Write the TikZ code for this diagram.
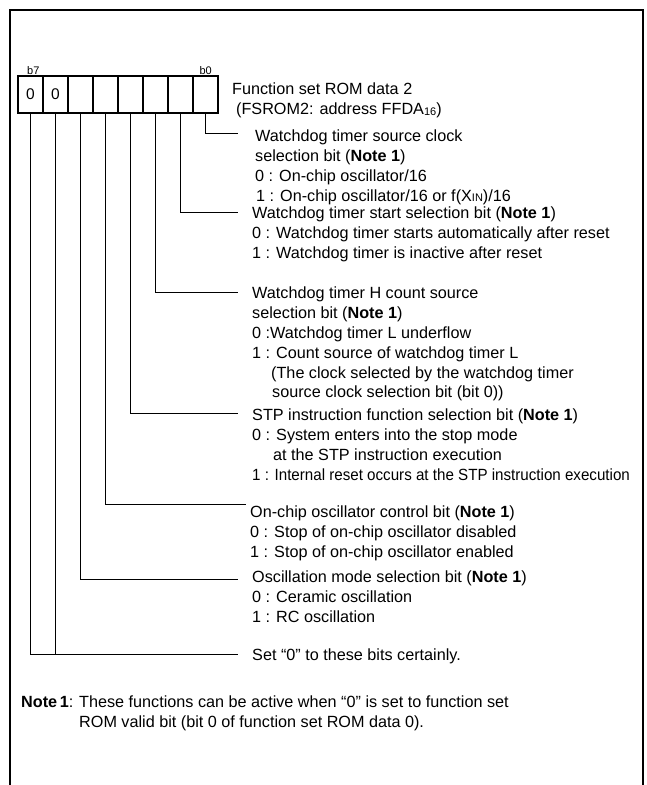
\documentclass[tikz,border=0pt]{standalone}
\usepackage{fontspec}
\usepackage{graphicx}
\setmainfont{Liberation Sans}
\usetikzlibrary{positioning}

\begin{document}
\begin{tikzpicture}[x=1pt, y=-1pt,
        cell/.style={draw, line width=1.2pt, minimum width=25pt, minimum height=37pt,
            inner sep=0pt, outer sep=0pt, font=\fontsize{15.5}{18}\selectfont},
        bitno/.style={inner sep=0pt, font=\fontsize{11}{12}\selectfont},
        desc/.style={anchor=north west, align=left, inner sep=0pt,
            font=\fontsize{16.2}{19.8}\selectfont},
        leader/.style={line width=0.8pt}]
    \useasboundingbox (0,0) rectangle (646,785);

    % frame, open at the bottom
    \draw[line width=2pt] (10,785) -- (10,10) -- (643,10) -- (643,785);

    % register cells (b7 ... b0)
    \node[cell] (c7) at (30.5,94.5) {0};
    \node[cell, right=0pt of c7] (c6) {0};
    \node[cell, right=0pt of c6] (c5) {};
    \node[cell, right=0pt of c5] (c4) {};
    \node[cell, right=0pt of c4] (c3) {};
    \node[cell, right=0pt of c3] (c2) {};
    \node[cell, right=0pt of c2] (c1) {};
    \node[cell, right=0pt of c1] (c0) {};
    \node[bitno, anchor=south west, above right=1pt and 9pt of c7.north west] (b7) {b7};
    \node[bitno, anchor=south east, above left=1pt and 6pt of c0.north east] (b0) {b0};

    \node[desc] (title) at (232,83)
        {Function set ROM data 2\\
         \hspace{4pt}(FSROM2: address FFDA\raisebox{-1pt}{\fontsize{11}{11}\selectfont 16})};

    % bit descriptions
    \node[desc] (t0) at (255,130)
        {Watchdog timer source clock\\
         selection bit (\textbf{Note 1})\\
         0 : On-chip oscillator/16\\
         \hspace{1pt}1 : On-chip oscillator/16 or f(X{\fontsize{11}{11}\selectfont IN})/16};
    \node[desc] (t1) at (252,207)
        {Watchdog timer start selection bit (\textbf{Note 1})\\
         0 : Watchdog timer starts automatically after reset\\
         1 : Watchdog timer is inactive after reset};
    \node[desc] (t2) at (252,287)
        {Watchdog timer H count source\\
         selection bit (\textbf{Note 1})\\
         0 :Watchdog timer L underflow\\
         1 : Count source of watchdog timer L\\
         \hspace{19pt}(The clock selected by the watchdog timer\\
         \hspace{20pt}source clock selection bit (bit 0))};
    \node[desc] (t3) at (252,409)
        {STP instruction function selection bit (\textbf{Note 1})\\
         0 : System enters into the stop mode\\
         \hspace{21pt}at the STP instruction execution\\
         \scalebox{0.935}[1]{1 : Internal reset occurs at the STP instruction execution}};
    \node[desc] (t4) at (250,506)
        {On-chip oscillator control bit (\textbf{Note 1})\\
         0 : Stop of on-chip oscillator disabled\\
         1 : Stop of on-chip oscillator enabled};
    \node[desc] (t5) at (252,571)
        {Oscillation mode selection bit (\textbf{Note 1})\\
         0 : Ceramic oscillation\\
         1 : RC oscillation};
    \node[desc] (t67) at (252,649) {Set “0” to these bits certainly.};

    % leaders
    \coordinate (e0) at (238,133);
    \coordinate (e1) at (238,212);
    \coordinate (e2) at (238,292);
    \coordinate (e3) at (238,413);
    \coordinate (e4) at (246,504);
    \coordinate (e5) at (238,579);
    \coordinate (e67) at (238,654);
    \draw[leader] (c0.south) |- (e0);
    \draw[leader] (c1.south) |- (e1);
    \draw[leader] (c2.south) |- (e2);
    \draw[leader] (c3.south) |- (e3);
    \draw[leader] (c4.south) |- (e4);
    \draw[leader] (c5.south) |- (e5);
    \draw[leader] (c7.south) |- (e67);
    \draw[leader] (c6.south) -- (c6.south |- e67);

    % note
    \node[desc] (notehead) at (21,696) {\textbf{Note\,1}:};
    \node[desc] (notebody) at (79,696)
        {These functions can be active when “0” is set to function set\\
         ROM valid bit (bit 0 of function set ROM data 0).};
\end{tikzpicture}
\end{document}
